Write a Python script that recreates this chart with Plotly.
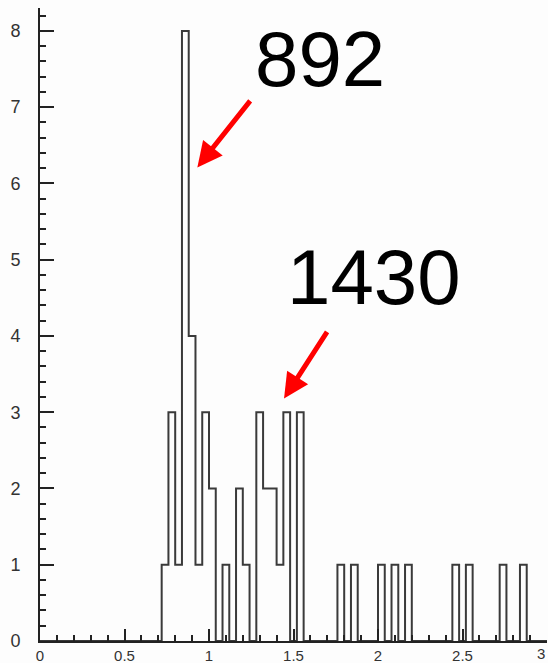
import numpy as np
import plotly.graph_objects as go

# Histogram: 75 bins of width 0.04 from 0 to 3
bin_width = 0.04
bin_start = 0.0
counts = [0] * 75
filled = {
    18: 1, 19: 3, 20: 1, 21: 8, 22: 4, 23: 1, 24: 3, 25: 2,
    27: 1, 29: 2, 30: 1, 32: 3, 33: 2, 34: 2, 35: 1, 36: 3, 38: 3,
    44: 1, 46: 1, 50: 1, 52: 1, 54: 1, 61: 1, 63: 1, 68: 1, 71: 1,
}
for k, v in filled.items():
    counts[k] = v

peak_labels = ["892", "1430"]
x_ticks = [0, 0.5, 1, 1.5, 2, 2.5]
x_tick_text = ["0", "0.5", "1", "1.5", "2", "2.5"]
x_last_tick = 3
y_ticks = [0, 1, 2, 3, 4, 5, 6, 7, 8]

edges = bin_start + bin_width * np.arange(len(counts) + 1)
step_x = np.concatenate([[edges[0]], edges])
step_y = np.concatenate([[0], counts, [counts[-1]]])
step_x = np.append(step_x, edges[-1])
step_y = np.append(step_y, 0)

tick_font = dict(family="Liberation Sans, Arial, sans-serif", size=18, color="#333333")
xtick_font = dict(family="Liberation Sans, Arial, sans-serif", size=15, color="#333333")

fig = go.Figure()
fig.add_trace(go.Scatter(
    x=step_x, y=step_y, mode="lines", line_shape="hv",
    line=dict(color="#3a3a3a", width=2), hoverinfo="skip", showlegend=False,
))

fig.update_layout(
    width=548, height=663,
    margin=dict(l=40, r=1, t=8, b=22),
    paper_bgcolor="#fdfdfd", plot_bgcolor="#fdfdfd",
    font=tick_font,
    showlegend=False,
)
fig.update_xaxes(
    range=[0, 3], showgrid=False, zeroline=False, automargin=False,
    showline=True, linecolor="#222222", linewidth=2,
    tickmode="array", tickvals=x_ticks, ticktext=x_tick_text, tickfont=xtick_font,
    ticks="inside", ticklen=12, tickwidth=2, tickcolor="#222222",
    ticklabelstandoff=0,
    minor=dict(dtick=0.1, tick0=0, ticks="inside", ticklen=6, tickwidth=2, tickcolor="#222222"),
)
fig.update_yaxes(
    range=[0, 8.3], showgrid=False, zeroline=False, automargin=False,
    showline=True, linecolor="#222222", linewidth=2,
    tickmode="array", tickvals=y_ticks, tickfont=tick_font,
    ticks="inside", ticklen=14, tickwidth=2, tickcolor="#222222",
    ticklabelstandoff=14,
    minor=dict(dtick=0.2, tick0=0, ticks="inside", ticklen=6, tickwidth=2, tickcolor="#222222"),
)

# last x tick label, kept inside the page at the right edge
fig.add_annotation(x=x_last_tick, xref="x", xanchor="right", y=0, yref="paper",
                   yanchor="top", yshift=-2,
                   text=str(x_last_tick), showarrow=False, font=xtick_font)

label_font = dict(family="Comic Sans MS, Liberation Sans, Arial, sans-serif", size=78, color="black")
fig.add_annotation(x=1.654, y=7.63, text=peak_labels[0], showarrow=False, font=label_font)
fig.add_annotation(x=1.976, y=4.77, text=peak_labels[1], showarrow=False, font=label_font)

fig.add_annotation(x=0.931, y=6.21, ax=54, ay=-68, text="", showarrow=True,
                   arrowhead=2, arrowsize=1, arrowwidth=5, arrowcolor="#ff0000")
fig.add_annotation(x=1.444, y=3.18, ax=44, ay=-68, text="", showarrow=True,
                   arrowhead=2, arrowsize=1, arrowwidth=5, arrowcolor="#ff0000")

fig.write_html("out.html")
